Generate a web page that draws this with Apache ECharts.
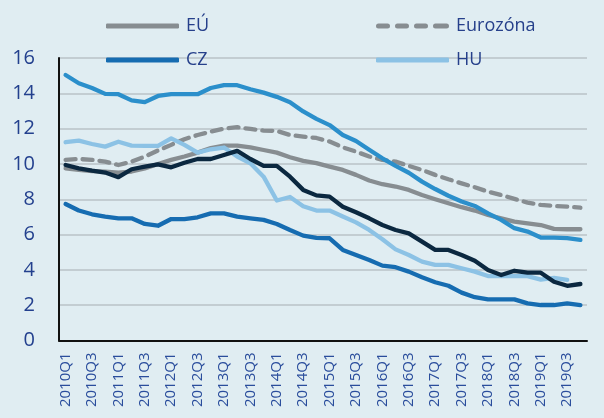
<!DOCTYPE html>
<html>
<head>
<meta charset="utf-8">
<script src="https://cdn.jsdelivr.net/npm/echarts@6/dist/echarts.min.js"></script>
<style>
  html, body { margin: 0; padding: 0; background: #e0edf2; }
  #chart { width: 604px; height: 418px; }
</style>
</head>
<body>
<div id="chart"></div>
<script>
// štvrťroky 2010Q1 - 2019Q4
var quarters = [];
for (var y = 2010; y <= 2019; y++) {
  for (var q = 1; q <= 4; q++) quarters.push(y + 'Q' + q);
}

var eu = [9.75, 9.66, 9.6, 9.57, 9.5, 9.57, 9.75, 10.0, 10.23, 10.42,
  10.64, 10.9, 11.04, 11.04, 10.94, 10.79, 10.64, 10.38, 10.17, 10.05,
  9.85, 9.66, 9.38, 9.06, 8.85, 8.72, 8.53, 8.24, 8.0, 7.77,
  7.55, 7.36, 7.11, 6.92, 6.73, 6.64, 6.54, 6.32, 6.3, 6.3];
var ez = [10.23, 10.28, 10.23, 10.13, 9.94, 10.13, 10.42, 10.76, 11.08, 11.4,
  11.64, 11.83, 12.0, 12.08, 11.98, 11.89, 11.87, 11.64, 11.55, 11.47,
  11.27, 10.94, 10.7, 10.42, 10.23, 10.13, 9.89, 9.66, 9.38, 9.13,
  8.9, 8.68, 8.43, 8.24, 8.02, 7.81, 7.68, 7.62, 7.58, 7.52];
var cz = [7.73, 7.36, 7.15, 7.02, 6.92, 6.92, 6.6, 6.5, 6.88, 6.88,
  6.98, 7.2, 7.2, 7.02, 6.92, 6.83, 6.6, 6.26, 5.94, 5.81,
  5.79, 5.13, 4.84, 4.56, 4.24, 4.15, 3.9, 3.58, 3.3, 3.1,
  2.71, 2.45, 2.33, 2.33, 2.33, 2.1, 2.01, 2.01, 2.1, 2.01];
var hu = [11.23, 11.32, 11.13, 10.98, 11.26, 11.04, 11.02, 11.02, 11.45, 11.08,
  10.64, 10.83, 10.93, 10.42, 10.04, 9.28, 7.93, 8.13, 7.6, 7.36,
  7.36, 7.02, 6.69, 6.26, 5.73, 5.16, 4.84, 4.47, 4.28, 4.28,
  4.09, 3.9, 3.65, 3.65, 3.65, 3.65, 3.45, 3.55, 3.43, null];
var pl = [9.94, 9.75, 9.62, 9.51, 9.25, 9.7, 9.85, 9.98, 9.81, 10.07,
  10.28, 10.28, 10.51, 10.74, 10.28, 9.89, 9.89, 9.28, 8.53, 8.22,
  8.15, 7.58, 7.26, 6.92, 6.54, 6.26, 6.07, 5.6, 5.13, 5.13,
  4.84, 4.52, 3.99, 3.71, 3.95, 3.84, 3.84, 3.33, 3.1, 3.2];
var sk = [15.04, 14.57, 14.3, 13.97, 13.95, 13.6, 13.5, 13.85, 13.95, 13.95,
  13.95, 14.3, 14.46, 14.46, 14.23, 14.04, 13.8, 13.5, 12.97, 12.55,
  12.2, 11.64, 11.3, 10.8, 10.32, 9.89, 9.5, 9.0, 8.58, 8.2,
  7.87, 7.62, 7.2, 6.83, 6.36, 6.17, 5.83, 5.83, 5.8, 5.7];

var yTicks = [0, 2, 4, 6, 8, 10, 12, 14, 16];

var myChart = echarts.init(document.getElementById('chart'));

function line(name, data, color, dashed) {
  return {
    name: name,
    type: 'line',
    data: data,
    symbol: 'none',
    smooth: false,
    connectNulls: false,
    lineStyle: {
      color: color,
      width: 4.3,
      type: dashed ? [10, 7] : 'solid',
      cap: 'round',
      join: 'round'
    },
    itemStyle: { color: color }
  };
}

// legenda: hrubá čiara, pre Eurozónu štyri čiarky
var dashIcon = 'path://M2.5,0h9a2.5,2.5 0 0 1 0,5h-9a2.5,2.5 0 0 1 0,-5z' +
  'M21.5,0h9a2.5,2.5 0 0 1 0,5h-9a2.5,2.5 0 0 1 0,-5z' +
  'M40.5,0h9a2.5,2.5 0 0 1 0,5h-9a2.5,2.5 0 0 1 0,-5z' +
  'M59.5,0h11a2.5,2.5 0 0 1 0,5h-11a2.5,2.5 0 0 1 0,-5z';

function legendAt(left, top, name, icon) {
  return {
    left: left,
    top: top,
    padding: 0,
    itemWidth: 73,
    itemHeight: 5,
    itemGap: 0,
    selectedMode: false,
    textStyle: { color: '#26408b', fontSize: 18, fontFamily: 'Open Sans', padding: [0, 0, 0, 2] },
    data: [{ name: name, icon: icon || 'roundRect' }]
  };
}

var option = {
  backgroundColor: '#e0edf2',
  animation: false,
  legend: [
    legendAt(106, 17, 'EÚ'),
    legendAt(376, 17, 'Eurozóna', dashIcon),
    legendAt(106, 51, 'CZ'),
    legendAt(376, 51, 'HU')
  ],
  grid: { left: 59, right: 17, top: 58, bottom: 77.5, containLabel: false },
  xAxis: {
    type: 'category',
    data: quarters,
    boundaryGap: true,
    axisLine: { lineStyle: { color: '#111', width: 2 } },
    axisTick: { show: false },
    axisLabel: {
      interval: 1,
      rotate: 90,
      margin: 12,
      color: '#2a4d9c',
      fontSize: 15,
      fontFamily: 'Open Sans'
    }
  },
  yAxis: {
    type: 'value',
    min: yTicks[0],
    max: yTicks[yTicks.length - 1],
    interval: 2,
    axisLine: { show: true, lineStyle: { color: '#111', width: 2 } },
    axisTick: { show: false },
    splitLine: { lineStyle: { color: '#c3cdd2', width: 2 } },
    axisLabel: {
      margin: 24,
      color: '#23408e',
      fontSize: 20,
      fontFamily: 'Open Sans'
    }
  },
  series: [
    line('EÚ', eu, '#878d91', false),
    line('Eurozóna', ez, '#878d91', true),
    line('SK', sk, '#2b8fcb', false),
    line('HU', hu, '#8cc2e5', false),
    line('CZ', cz, '#166cb1', false),
    line('PL', pl, '#0b2840', false)
  ]
};

myChart.setOption(option);
</script>
</body>
</html>
